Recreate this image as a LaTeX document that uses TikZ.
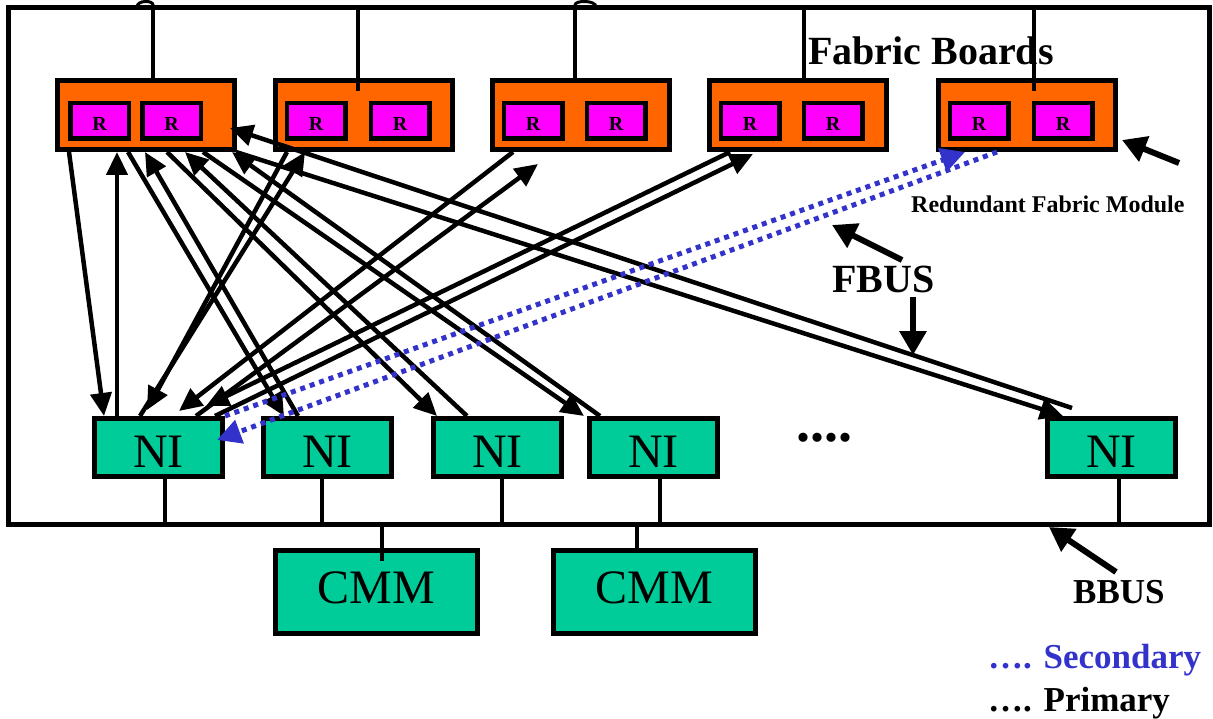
\documentclass[tikz,border=0pt]{standalone}
\usepackage{fontspec}
\setmainfont{Liberation Serif}
\usetikzlibrary{arrows.meta}
\definecolor{boardfill}{RGB}{255,102,0}
\definecolor{routerfill}{RGB}{255,0,255}
\definecolor{nifill}{RGB}{0,204,153}
\definecolor{backup}{RGB}{51,51,204}
\begin{document}
\begin{tikzpicture}[x=1pt,y=-1pt,
  board/.style={draw,line width=5pt,fill=boardfill,minimum width=177pt,minimum height=69pt,inner sep=0pt},
  router/.style={draw,line width=4.5pt,fill=routerfill,minimum width=58.5pt,minimum height=35.5pt,inner sep=0pt,font=\bfseries\fontsize{20}{20}\selectfont,text height=19pt},
  iface/.style={draw,line width=5pt,fill=nifill,minimum width=128pt,minimum height=58pt,inner sep=0pt,font=\fontsize{48}{48}\selectfont,text height=40pt},
  cmmbox/.style={draw,line width=5pt,fill=nifill,minimum width=202pt,minimum height=83pt,inner sep=0pt,font=\fontsize{48}{48}\selectfont,text height=23pt},
  link/.style={line width=4.5pt,-{Triangle[length=23pt,width=21pt]}},
  backuplink/.style={color=backup,line width=5pt,dash pattern=on 5pt off 5pt,-{Triangle[length=24pt,width=24pt]}},
  callout/.style={line width=6pt,-{Triangle[length=24pt,width=26pt]}},
  wire/.style={line width=4pt},
  hop/.style={line width=3pt},
  boldlabel/.style={anchor=base west,inner sep=0pt,font=\bfseries\fontsize{#1}{#1}\selectfont}
]
\useasboundingbox (0,0) rectangle (1213,719);

% chassis outline; its bottom edge is the backplane bus
\draw[line width=5pt] (8,8) rectangle (1209,524);
\coordinate (bus) at (8,524);
\coordinate (top) at (8,8);

% fabric boards with their router chips
\node[board] (fb1) at (146,115) {};
\node[board] (fb2) at (364,115) {};
\node[board] (fb3) at (581,115) {};
\node[board] (fb4) at (798,115) {};
\node[board] (fb5) at (1027,115) {};
\node[router] (r11) at (99.5,121) {R};
\node[router] (r12) at (171.5,121) {R};
\node[router] (r21) at (316,121) {R};
\node[router] (r22) at (400,121) {R};
\node[router] (r31) at (533,121) {R};
\node[router] (r32) at (616,121) {R};
\node[router] (r41) at (750,121) {R};
\node[router] (r42) at (833,121) {R};
\node[router] (r51) at (979,121) {R};
\node[router] (r52) at (1063,121) {R};

% network interfaces and chassis management modules
\node[iface] (ni1) at (158.5,447.5) {NI};
\node[iface] (ni2) at (327.5,447.5) {NI};
\node[iface] (ni3) at (497.5,447.5) {NI};
\node[iface] (ni4) at (653.5,447.5) {NI};
\node[iface] (ni5) at (1111.5,447.5) {NI};
\node[cmmbox] (cmm1) at (376.5,592) {CMM};
\node[cmmbox] (cmm2) at (654,592) {CMM};

% drops from the top edge to each board
\draw[wire] ([xshift=7pt]fb1.north) -- ([xshift=7pt]fb1.north |- top);
\draw[wire] ([xshift=-6pt,yshift=-13pt]fb2.north) -- ([xshift=-6pt]fb2.north |- top);
\draw[wire] ([xshift=-6pt]fb3.north) -- ([xshift=-6pt]fb3.north |- top);
\draw[wire] ([xshift=6pt]fb4.north) -- ([xshift=6pt]fb4.north |- top);
\draw[wire] ([xshift=7pt,yshift=-13pt]fb5.north) -- ([xshift=7pt]fb5.north |- top);
\draw[hop] (153,9) -- (153,5) .. controls (153,0) and (137,0) .. (137,7);
\draw[hop] (575,9) -- (575,5) .. controls (575,0) and (596,0) .. (596,7);

% interfaces and management modules on the backplane bus
\draw[wire] ([xshift=6.5pt]ni1.south) -- ([xshift=6.5pt]ni1.south |- bus);
\draw[wire] ([xshift=-5.5pt]ni2.south) -- ([xshift=-5.5pt]ni2.south |- bus);
\draw[wire] ([xshift=4.5pt]ni3.south) -- ([xshift=4.5pt]ni3.south |- bus);
\draw[wire] ([xshift=6.5pt]ni4.south) -- ([xshift=6.5pt]ni4.south |- bus);
\draw[wire] ([xshift=7.5pt]ni5.south) -- ([xshift=7.5pt]ni5.south |- bus);
\draw[wire] ([xshift=5.5pt,yshift=-13pt]cmm1.north) -- ([xshift=5.5pt]cmm1.north |- bus);
\draw[wire] ([xshift=-17pt]cmm2.north) -- ([xshift=-17pt]cmm2.north |- bus);

% primary fabric links
\draw[link] ([xshift=14pt]fb1.south west) -- ([xshift=12pt]ni1.north west);
\draw[link] ([xshift=25pt]ni1.north west) -- ([xshift=62pt]fb1.south west);
\draw[link] ([xshift=73pt]fb1.south west) -- ([xshift=23pt]ni2.north west);
\draw[link] ([xshift=37pt]ni2.north west) -- ([xshift=90pt]fb1.south west);
\draw[link] ([xshift=14pt]fb2.south west) -- ([xshift=55pt,yshift=6pt]ni1.north west);
\draw[link] ([xshift=48pt]ni1.north west) -- ([xshift=32pt]fb2.south west);
\draw[link] ([xshift=112pt]fb1.south west) -- ([xshift=6pt]ni3.north west);
\draw[link] ([xshift=36pt]ni3.north west) -- ([xshift=130pt]fb1.south west);
\draw[link] ([xshift=148pt]fb1.south west) -- ([xshift=-3pt]ni4.north west);
\draw[link] ([xshift=13pt]ni4.north west) -- ([xshift=177pt]fb1.south west);
\draw[link] ([xshift=27pt,yshift=8pt]ni5.north west) -- coordinate[pos=0.189] (fbusmark) ([xshift=-7pt,yshift=-13pt]fb1.east);
\draw[link] ([xshift=181pt]fb1.south west) -- ([xshift=18pt]ni5.north west);
\draw[link] ([xshift=23pt]fb3.south west) -- ([xshift=87pt,yshift=5pt]ni1.north west);
\draw[link] ([xshift=104pt]ni1.north west) -- ([xshift=48pt,yshift=-12pt]fb3.south west);
\draw[link] ([xshift=23pt]fb4.south west) -- ([xshift=114pt,yshift=10pt]ni1.north west);
\draw[link] ([xshift=123pt]ni1.north west) -- ([xshift=46pt,yshift=-2pt]fb4.south west);

% secondary links to the redundant fabric module
\draw[backuplink] (ni1.north east) -- ([xshift=29pt]fb5.south west);
\draw[backuplink] ([xshift=61pt]fb5.south west) -- ([xshift=-8pt,yshift=-24pt]ni1.north east);

% labels
\node[boldlabel=40] (fbtitle) at (808,65) {Fabric Boards};
\node[boldlabel=24] (rfm) at (911,213) {Redundant Fabric Module};
\node[boldlabel=40] (fbus) at (832,293) {FBUS};
\node[boldlabel=35] (bbus) at (1073,603) {BBUS};
\node[boldlabel=56] (more) at (796,441) {....};
\node[boldlabel=35,text=backup] (legsec) at (988,668) {…. Secondary};
\node[boldlabel=35] (legpri) at (988,711) {…. Primary};

% callout arrows
\coordinate (rfmtail) at (1179,163);
\coordinate (fbtail) at (902,260);
\coordinate (fbtip) at (832,225);
\coordinate (fbtail2) at (913,297);
\coordinate (bbtail) at (1116,572);
\coordinate (busmark) at (1049,527);
\draw[callout] (rfmtail) -- ([xshift=4pt,yshift=-25pt]fb5.east);
\draw[callout] (fbtail) -- (fbtip);
\draw[callout] (fbtail2) -- (fbtail2 |- fbusmark);
\draw[callout] (bbtail) -- (busmark);
\end{tikzpicture}
\end{document}
